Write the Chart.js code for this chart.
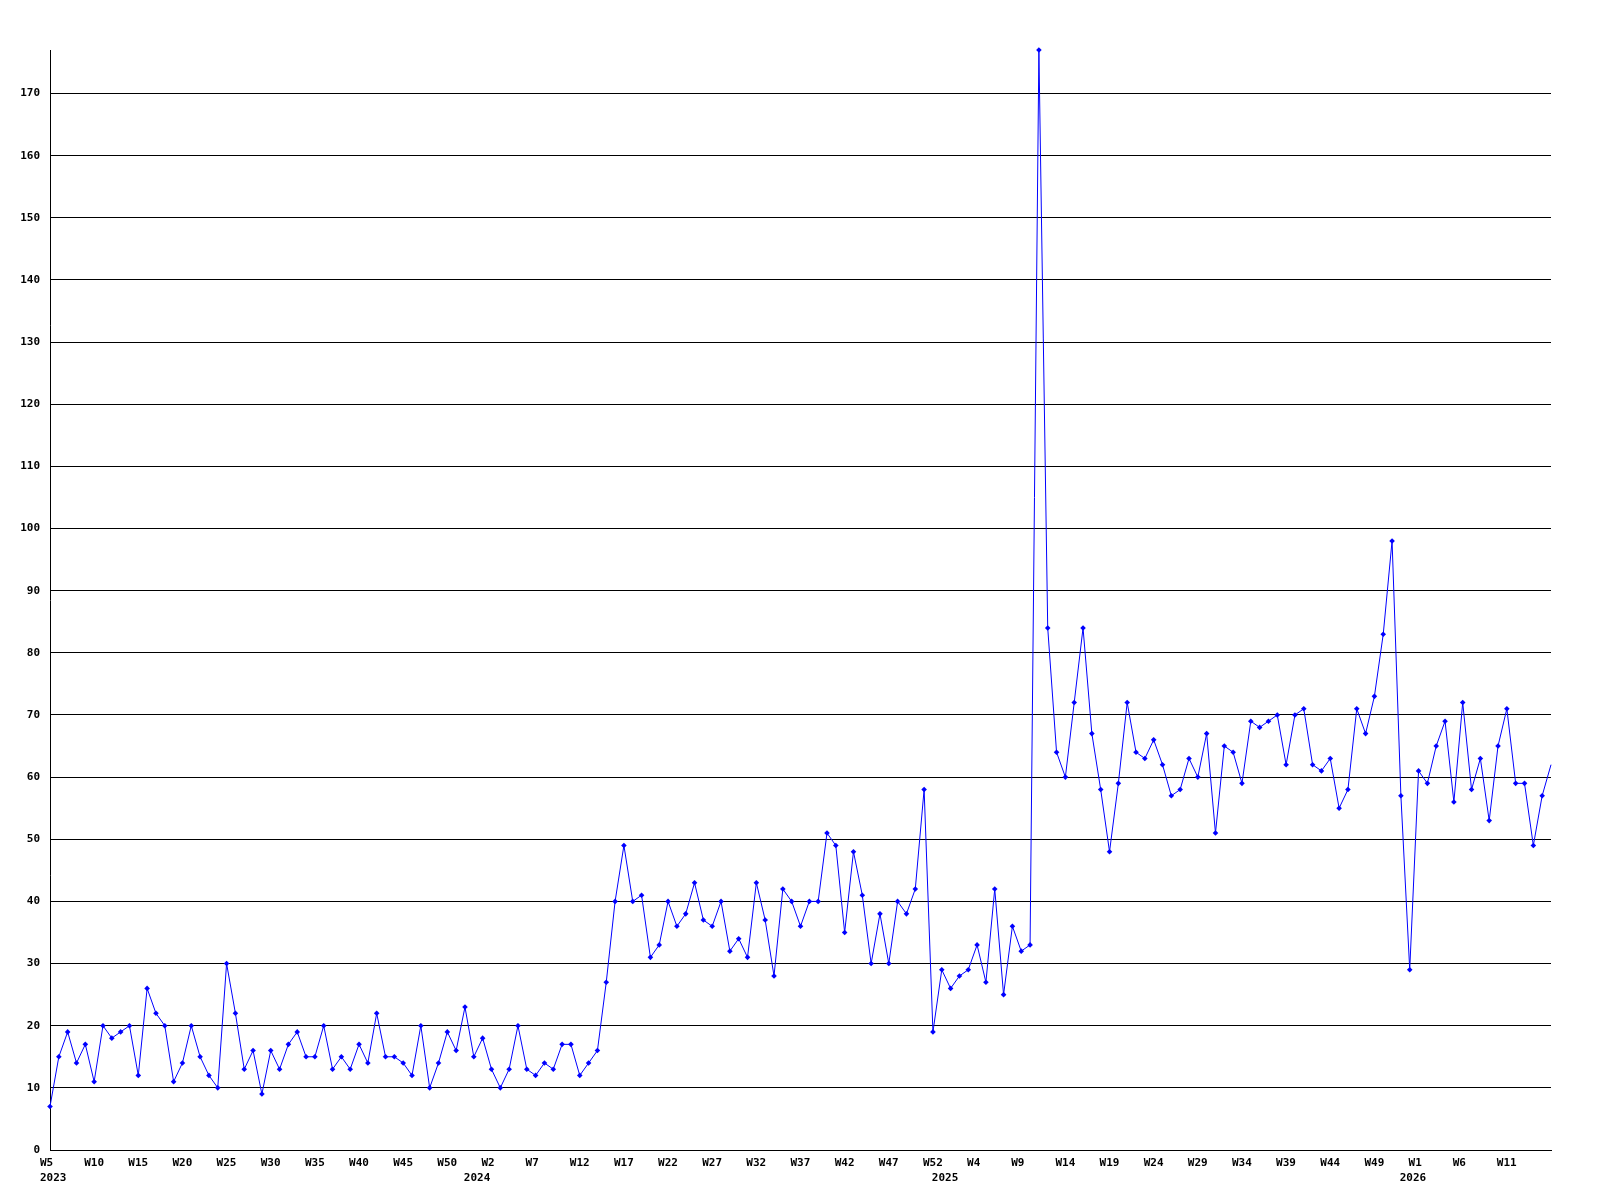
<!DOCTYPE html>
<html lang="en">
<head>
  <meta charset="UTF-8" />
  <title>Weekly count</title>
  <script src="https://cdn.jsdelivr.net/npm/chart.js"></script>
  <style>
    html, body { margin: 0; padding: 0; background: #fff; }
    canvas { display: block; }
  </style>
</head>
<body>
  <canvas id="chart" width="1600" height="1200"></canvas>

  <script>
    // week ranges per year, as they appear on the axis: [year, first week, last week]
    const yearWeeks = [
      [2023, 5, 52],
      [2024, 0, 52],
      [2025, 0, 52],
      [2026, 0, 16]
    ];

    const values = [
      7, 15, 19, 14, 17, 11, 20, 18, 19, 20,
      12, 26, 22, 20, 11, 14, 20, 15, 12, 10,
      30, 22, 13, 16, 9, 16, 13, 17, 19, 15,
      15, 20, 13, 15, 13, 17, 14, 22, 15, 15,
      14, 12, 20, 10, 14, 19, 16, 23, 15, 18,
      13, 10, 13, 20, 13, 12, 14, 13, 17, 17,
      12, 14, 16, 27, 40, 49, 40, 41, 31, 33,
      40, 36, 38, 43, 37, 36, 40, 32, 34, 31,
      43, 37, 28, 42, 40, 36, 40, 40, 51, 49,
      35, 48, 41, 30, 38, 30, 40, 38, 42, 58,
      19, 29, 26, 28, 29, 33, 27, 42, 25, 36,
      32, 33, 177, 84, 64, 60, 72, 84, 67, 58,
      48, 59, 72, 64, 63, 66, 62, 57, 58, 63,
      60, 67, 51, 65, 64, 59, 69, 68, 69, 70,
      62, 70, 71, 62, 61, 63, 55, 58, 71, 67,
      73, 83, 98, 57, 29, 61, 59, 65, 69, 56,
      72, 58, 63, 53, 65, 71, 59, 59, 49, 57,
      62
    ];

    const yMax = 177;
    const yStep = 10;

    // one label per point: week and year
    const weekLabels = [];
    const yearOfPoint = [];
    yearWeeks.forEach(([year, first, last]) => {
      for (let w = first; w <= last; w++) {
        weekLabels.push("W" + w);
        yearOfPoint.push(year);
      }
    });

    const lastIndex = values.length - 1;
    const monoFont = { family: "'DejaVu Sans Mono', monospace", size: 11, weight: "bold", lineHeight: 1.36 };

    new Chart(document.getElementById("chart"), {
      type: "line",
      data: {
        labels: weekLabels,
        datasets: [{
          data: values,
          borderColor: "#0000ff",
          backgroundColor: "#0000ff",
          borderWidth: 1,
          tension: 0,
          pointStyle: "rectRot",
          pointRadius: ctx => ctx.dataIndex === lastIndex ? 0 : 2.8,
          pointBorderWidth: 0,
          clip: false
        }]
      },
      options: {
        responsive: false,
        devicePixelRatio: 1,
        animation: false,
        layout: { padding: { top: 50, right: 49, left: 0, bottom: 0 } },
        plugins: {
          legend: { display: false },
          tooltip: { enabled: false }
        },
        scales: {
          x: {
            type: "category",
            offset: false,
            grid: { display: false },
            border: { display: true, color: "#000", width: 1 },
            afterFit: scale => { scale.height = 50; },
            ticks: {
              autoSkip: false,
              maxRotation: 0,
              minRotation: 0,
              align: "start",
              labelOffset: -10,
              padding: -2,
              color: "#000",
              font: monoFont,
              callback: (value, index) => {
                if (index === lastIndex) return "";
                const week = index % 5 === 0 ? weekLabels[index] : "";
                const newYear = index === 0 || yearOfPoint[index] !== yearOfPoint[index - 1];
                const year = newYear ? String(yearOfPoint[index]) : "";
                if (!week && !year) return "";
                return year ? [week, year] : week;
              }
            }
          },
          y: {
            min: 0,
            max: yMax,
            afterFit: scale => { scale.width = 50; },
            grid: { color: "#000", lineWidth: 1, drawTicks: false },
            border: { display: true, color: "#000", width: 1 },
            ticks: {
              stepSize: yStep,
              includeBounds: false,
              padding: 10,
              color: "#000",
              font: monoFont
            }
          }
        }
      }
    });
  </script>
</body>
</html>
